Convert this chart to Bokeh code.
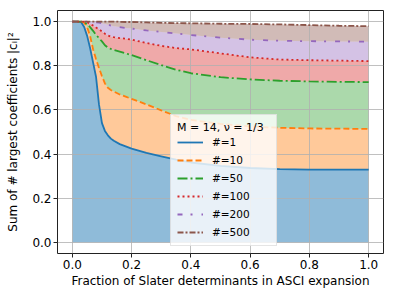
from bokeh.plotting import figure
from bokeh.models import Legend, LegendItem, FixedTicker, NumeralTickFormatter, Range1d
from bokeh.embed import file_html
from bokeh.resources import INLINE

# Fraction of Slater determinants in ASCI expansion
frac = [0.0, 0.02, 0.03, 0.04, 0.05, 0.06, 0.07, 0.08, 0.09, 0.10, 0.11, 0.12, 0.13,
        0.14, 0.16, 0.18, 0.20, 0.25, 0.30, 0.35, 0.40, 0.50, 0.60, 0.70, 0.80, 0.90, 1.00]

n1 = [1.0, 1.0, 0.997, 0.975, 0.935, 0.88, 0.815, 0.75, 0.625, 0.54, 0.505, 0.485, 0.47,
      0.46, 0.445, 0.435, 0.425, 0.405, 0.39, 0.375, 0.362, 0.347, 0.337, 0.332, 0.33, 0.33, 0.33]
n10 = [1.0, 1.0, 1.0, 0.995, 0.975, 0.935, 0.875, 0.83, 0.79, 0.753, 0.72, 0.70, 0.69,
       0.683, 0.67, 0.66, 0.65, 0.625, 0.598, 0.572, 0.555, 0.537, 0.525, 0.519, 0.516, 0.515, 0.514]
n50 = [1.0, 1.0, 1.0, 0.997, 0.988, 0.975, 0.958, 0.94, 0.925, 0.91, 0.893, 0.882, 0.876,
       0.871, 0.864, 0.856, 0.848, 0.825, 0.803, 0.782, 0.766, 0.748, 0.738, 0.732, 0.729, 0.727, 0.726]
n100 = [1.0, 1.0, 1.0, 1.0, 0.997, 0.99, 0.982, 0.973, 0.965, 0.955, 0.945, 0.937, 0.932,
        0.929, 0.925, 0.922, 0.918, 0.903, 0.89, 0.88, 0.874, 0.856, 0.838, 0.828, 0.825, 0.823, 0.821]
n200 = [1.0, 1.0, 1.0, 1.0, 1.0, 1.0, 1.0, 0.997, 0.995, 0.992, 0.989, 0.986, 0.982,
        0.979, 0.975, 0.971, 0.968, 0.96, 0.953, 0.946, 0.939, 0.927, 0.918, 0.913, 0.911, 0.91, 0.909]
n500 = [1.0, 1.0, 1.0, 1.0, 1.0, 1.0, 1.0, 1.0, 1.0, 1.0, 1.0, 1.0, 1.0,
        1.0, 0.999, 0.998, 0.998, 0.996, 0.994, 0.993, 0.992, 0.99, 0.989, 0.987, 0.984, 0.981, 0.979]

labels = ["#=1", "#=10", "#=50", "#=100", "#=200", "#=500"]
ticks = [0.0, 0.2, 0.4, 0.6, 0.8, 1.0]

series = [n1, n10, n50, n100, n200, n500]
colors = ["#1f77b4", "#ff7f0e", "#2ca02c", "#d62728", "#9467bd", "#8c564b"]
alphas = [0.5, 0.42, 0.4, 0.4, 0.4, 0.4]
dashes = ["solid", "6 3", "10 3 2 3", "2 3", "5 8 2 9", "6 2 2 2"]

FONT = "DejaVu Sans"

p = figure(width=394, height=296, output_backend="svg", toolbar_location=None,
           x_range=Range1d(-0.05, 1.05), y_range=Range1d(-0.05, 1.05),
           min_border_left=57, min_border_right=11, min_border_top=10, min_border_bottom=43,
           x_axis_label="Fraction of Slater determinants in ASCI expansion",
           y_axis_label="Sum of # largest coefficients |c\u1d62|\u00b2")

p.background_fill_color = "white"
p.border_fill_color = "white"
p.outline_line_color = "#222222"
p.outline_line_width = 1

lower = [0.0] * len(frac)
for ys, c, a in zip(series, colors, alphas):
    p.varea(x=frac, y1=lower, y2=ys, fill_color=c, fill_alpha=a, level="image")
    lower = ys

items = []
for ys, c, d, lab in zip(series, colors, dashes, labels):
    r = p.line(frac, ys, line_color=c, line_width=1.8, line_dash=d)
    items.append(LegendItem(label=lab, renderers=[r]))

for ax in (p.xaxis[0], p.yaxis[0]):
    ax.ticker = FixedTicker(ticks=ticks)
    ax.formatter = NumeralTickFormatter(format="0.0")
    ax.minor_tick_line_color = None
    ax.major_tick_in = 0
    ax.major_tick_out = 4
    ax.major_tick_line_color = "#222222"
    ax.axis_line_color = None
    ax.major_label_text_font = FONT
    ax.major_label_text_font_size = "12px"
    ax.major_label_text_color = "black"
    ax.major_label_standoff = 2
    ax.axis_label_text_font = FONT
    ax.axis_label_text_font_size = "12px"
    ax.axis_label_text_font_style = "normal"
    ax.axis_label_text_color = "black"

p.xaxis.axis_label_standoff = 2
p.yaxis.axis_label_standoff = 9

for g in (p.xgrid[0], p.ygrid[0]):
    g.ticker = FixedTicker(ticks=ticks)
    g.grid_line_color = "#b0b0b0"
    g.grid_line_width = 0.8

legend = Legend(items=items, title="M = 14, \u03bd = 1/3", location=(113, 7),
                title_text_font=FONT, title_text_font_size="11px",
                title_text_font_style="normal", title_text_color="black",
                title_standoff=1,
                label_text_font=FONT, label_text_font_size="10.5px", label_text_color="black",
                glyph_width=26, glyph_height=14, label_height=14, label_width=58, spacing=4,
                padding=6, margin=0, label_standoff=9,
                border_line_color="#cccccc", border_line_width=1,
                background_fill_color="white", background_fill_alpha=0.8)
p.add_layout(legend, "center")

open("out.html", "w").write(file_html(p, INLINE))
